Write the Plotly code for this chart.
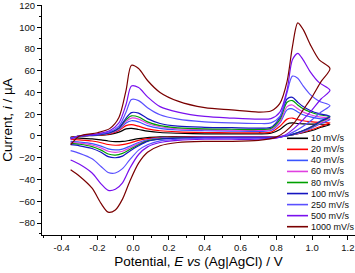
import plotly.graph_objects as go

# Potential grids (V vs Ag|AgCl)
E_fwd = [-0.35, -0.3, -0.2, -0.13, -0.08, -0.04, -0.01, 0.03, 0.08, 0.15, 0.25, 0.4,
         0.55, 0.7, 0.77, 0.82, 0.86, 0.89, 0.92, 0.95, 0.99, 1.04, 1.1]
E_rev = [1.1, 1.05, 1.0, 0.95, 0.9, 0.85, 0.8, 0.7, 0.55, 0.4, 0.25, 0.15, 0.08, 0.03,
         -0.02, -0.06, -0.1, -0.14, -0.18, -0.23, -0.3, -0.35]

scan_labels = ["10 mV/s", "20 mV/s", "40 mV/s", "60 mV/s", "80 mV/s",
               "100 mV/s", "250 mV/s", "500 mV/s", "1000 mV/s"]

# Currents (µA), forward scans
i_fwd_10 = [-1, 0, 0.5, 1.5, 3.5, 6.5, 7, 6, 4.5, 3.2, 2.5, 2, 2, 2, 2.5, 6, 11, 12, 11.5, 11.2, 11, 10.8, 10.5]
i_fwd_20 = [-1.5, 0, 0.8, 2, 5, 9.5, 10.5, 9, 6.5, 4.8, 3.8, 3.2, 3, 3, 3.5, 9, 15.5, 16.5, 15, 14, 13.2, 12.5, 12]
i_fwd_40 = [-2, 0, 1, 2.5, 6, 12, 14, 13, 9.5, 7, 5.5, 4.8, 4.5, 4.3, 5, 12, 24, 25, 22, 19.5, 17.5, 16, 15]
i_fwd_60 = [-2, 0, 1, 2.8, 6.5, 13.5, 16.5, 15.5, 11.5, 8.5, 6.5, 5.8, 5.4, 5.2, 6, 13, 27, 28.5, 25, 22, 19.5, 17.5, 16.5]
i_fwd_80 = [-2, 0, 1, 3, 7, 15, 18.5, 17.5, 13, 9.5, 7.5, 6.5, 6.2, 6, 7, 15, 31, 32.5, 28.5, 25, 22, 19.5, 17.5]
i_fwd_100 = [-2, 0, 1, 3.2, 7.5, 16.5, 21.5, 21, 16, 11.5, 9, 8, 7.6, 7.3, 8, 17, 34, 35.5, 31, 27, 23.5, 20.5, 18]
i_fwd_250 = [-2, 0, 1.5, 4, 9, 22, 33.5, 32.5, 26, 19.5, 15.5, 13, 12, 11.5, 12, 18, 40, 55, 53, 46, 38, 32, 28]
i_fwd_500 = [-3, 0, 2, 5, 12, 29, 46, 44.5, 36, 27, 22, 18, 16.5, 15.5, 16, 22, 42, 70, 76, 70, 59, 49, 42]
i_fwd_1000 = [-8, 0, 3, 7, 17, 42, 65, 62, 51, 40, 32, 26, 24, 22, 23, 30, 50, 82, 104, 98, 84, 70, 62]

# Currents (µA), reverse scans
i_rev_10 = [10.5, 8, 5, 3, 1.5, 0, -0.5, -0.5, -0.5, -0.5, -0.6, -0.9, -1.5, -2.5, -4, -5, -5.2, -4.6, -3.6, -2.7, -2, -1.5]
i_rev_20 = [12, 9, 6, 3.5, 1.5, 0, -0.8, -0.8, -0.8, -0.8, -1, -1.5, -2.5, -4, -6.5, -8, -8.5, -7.8, -6.2, -4.6, -3.6, -3]
i_rev_40 = [15, 11.5, 7.5, 4, 1.5, 0, -1, -1, -1, -1, -1.3, -2, -3.5, -6, -9.5, -12, -12.8, -11.8, -9.3, -7, -5.6, -5]
i_rev_60 = [16.5, 12.5, 8, 4.5, 1.8, 0, -1.2, -1.2, -1.2, -1.2, -1.5, -2.3, -4, -7, -11, -14, -15, -14, -11, -8.3, -6.5, -5.8]
i_rev_80 = [17.5, 13.5, 8.5, 4.8, 2, 0, -1.3, -1.4, -1.4, -1.4, -1.7, -2.6, -4.5, -8, -12.5, -16, -17.5, -16.5, -13, -9.8, -7.6, -6.8]
i_rev_100 = [18, 14, 9, 5, 2, 0, -1.4, -1.5, -1.5, -1.5, -2, -3, -5, -9, -14, -18.5, -20, -19, -15, -11.5, -9, -8]
i_rev_250 = [28, 22, 15, 9, 4, 0, -1.5, -2, -2, -2, -3, -4.5, -8, -13, -22, -30, -34, -33.5, -28, -21, -16, -13.5]
i_rev_500 = [42, 34, 24, 15, 7, 1, -2, -3, -3, -3, -4, -6, -10, -17, -30, -43, -49, -50, -44, -34, -26, -22]
i_rev_1000 = [62, 50, 36, 24, 12, 4, -1, -4, -5, -5, -6, -9, -15, -25, -42, -58, -68, -70, -62, -48, -37, -31]

fwd_sets = [i_fwd_10, i_fwd_20, i_fwd_40, i_fwd_60, i_fwd_80, i_fwd_100, i_fwd_250, i_fwd_500, i_fwd_1000]
rev_sets = [i_rev_10, i_rev_20, i_rev_40, i_rev_60, i_rev_80, i_rev_100, i_rev_250, i_rev_500, i_rev_1000]

colors = ["#000000", "#ff0000", "#3a55ff", "#e040e0", "#00a000",
          "#1515c0", "#5a50ff", "#7a10ee", "#7a0000"]

FONT = "Liberation Sans, Arial, sans-serif"

fig = go.Figure()
for lab, f, r, c in zip(scan_labels, fwd_sets, rev_sets, colors):
    fig.add_trace(go.Scatter(
        x=E_fwd + E_rev[1:], y=f + r[1:], mode="lines", name=lab,
        line=dict(color=c, width=1.2, shape="spline", smoothing=0.8),
        showlegend=False))

# Compact legend drawn with shapes/annotations (paper coordinates)
L, R, T, B = 42, 0, 5, 38
W, H = 355 - L - R, 273 - T - B
def px(x):
    return (x - L) / W
def py(y):
    return 1 - (y - T) / H

for k, (lab, c) in enumerate(zip(scan_labels, colors)):
    yy = 138.3 + 11.05 * k
    fig.add_shape(type="line", xref="paper", yref="paper",
                  x0=px(287), x1=px(308), y0=py(yy), y1=py(yy),
                  line=dict(color=c, width=1.6))
    fig.add_annotation(xref="paper", yref="paper", x=px(309), y=py(yy),
                       text=lab, showarrow=False, xanchor="left", yanchor="middle",
                       font=dict(family=FONT, size=9, color="#111111"))

axis_common = dict(showline=True, linecolor="#000000", linewidth=1,
                   ticks="outside", ticklen=4, tickwidth=1, tickcolor="#000000",
                   showgrid=False, zeroline=False, mirror=False, automargin=False,
                   ticklabeloverflow="allow",
                   tickfont=dict(family=FONT, size=9.5, color="#111111"))

fig.update_xaxes(range=[-0.51, 1.24], tickmode="array",
                 tickvals=[-0.4, -0.2, 0.0, 0.2, 0.4, 0.6, 0.8, 1.0, 1.2],
                 ticktext=["-0.4", "-0.2", "0.0", "0.2", "0.4", "0.6", "0.8", "1.0", "1.2"],
                 minor=dict(dtick=0.1, tick0=0, ticks="outside", ticklen=2, tickcolor="#000000"),
                 title=dict(text="Potential, <i>E</i> <i>vs</i> (Ag|AgCl) / V",
                            font=dict(family=FONT, size=13.5, color="#000000"), standoff=4),
                 **axis_common)
fig.update_yaxes(range=[-91, 120.4], tickmode="array",
                 tickvals=[-80, -60, -40, -20, 0, 20, 40, 60, 80, 100, 120],
                 minor=dict(dtick=10, tick0=0, ticks="outside", ticklen=2, tickcolor="#000000"),
                 title=dict(text="Current, <i>i</i> / µA",
                            font=dict(family=FONT, size=13.5, color="#000000"), standoff=5),
                 **axis_common)

fig.update_layout(width=355, height=273, margin=dict(l=L, r=R, t=T, b=B),
                  paper_bgcolor="white", plot_bgcolor="white",
                  font=dict(family=FONT))

fig.write_html("out.html", config={"displayModeBar": False},
               post_script="document.body.style.margin='0';document.body.style.overflow='hidden';")
